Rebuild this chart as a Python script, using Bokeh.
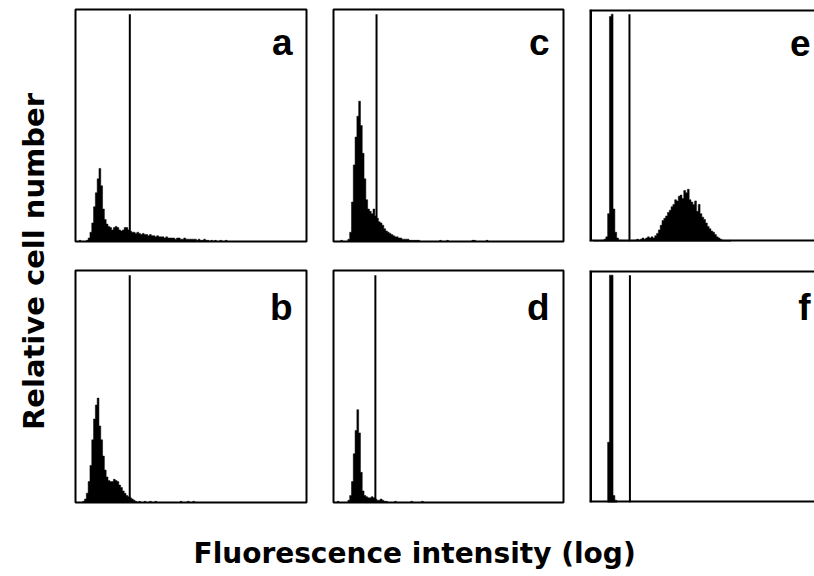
import math
from bokeh.plotting import figure
from bokeh.models import Range1d, Span, Label
from bokeh.layouts import row, column
from bokeh.embed import file_html
from bokeh.resources import INLINE

# ---------------- data ----------------
# Flow-cytometry histograms: x = log fluorescence channel (0-256), bins of 2 channels.
# counts = relative cell number (% of panel full scale), listed from bin index *_start.
BIN = 2
CHANNELS = 256

a_start = 2
a_counts = [0.5, 0, 0, 0, 0.5, 1.5, 4, 8, 15, 21, 27, 31.5, 24, 14, 9.5, 7.5, 6.5, 6, 5, 6,
            6.5, 6, 5, 4.5, 5, 6, 6, 5, 4.5, 4, 4, 3.5, 4, 3.5, 3, 3.5, 3, 3, 2.5, 3,
            2.5, 2.5, 2, 2.5, 2, 2, 2, 1.5, 2, 1.5, 1.5, 1.5, 1.5, 1, 1.5, 1.5, 1, 1, 1.5, 1,
            1, 1, 1, 1, 1, 0.5, 1, 0.5, 0.5, 1, 0.5, 0.5, 0, 0.5, 0, 0.5, 0, 0, 0.5, 0,
            0, 0.5]
a_marker = 60.2

b_start = 4
b_counts = [0.5, 1.5, 4, 9, 16, 27, 36, 42, 45, 33, 27, 20, 14, 11, 9.5, 9, 9, 10, 9.5, 9,
            7.5, 6.5, 5, 4, 3, 2.5, 2, 1.5, 1, 0.5, 0, 0.5, 0, 0, 0.5, 0, 0, 0.5, 0, 0,
            0.5, 0, 0, 0, 0, 0, 0, 0, 0, 0, 0, 0, 0, 0, 0.5, 0, 0, 0, 0.5, 0,
            0, 0.5]
b_marker = 60.1

c_start = 4
c_counts = [0.5, 0, 0, 0, 1, 4, 17, 33, 45, 54, 60.5, 50, 38, 27, 18, 14, 13, 12, 14, 11,
            10, 8.5, 8, 7, 5.5, 4.5, 4, 3.5, 3, 2.5, 2, 2, 1.5, 1.5, 1, 1, 1, 1, 0.5, 0.5,
            0.5, 0.5, 0.5, 0.5, 0, 0, 0, 0, 0, 0, 0, 0, 0, 0, 0, 0.5, 0, 0, 0, 0.5,
            0, 0, 0, 0, 0, 0, 0, 0, 0, 0, 0, 0, 0, 0.5, 0.5, 0, 0, 0, 0, 0,
            0, 0.5]
c_marker = 47.9

d_start = 2
d_counts = [0.5, 0, 0, 0, 0, 0, 1, 3, 9, 21, 31, 40, 30, 13, 5, 3, 2.5, 2, 2, 2.5,
            2, 1.5, 1, 1, 1.5, 1, 0.5, 0.5, 0, 0, 0, 0, 0.5, 0, 0, 0, 0, 0, 0, 0,
            0, 0.5, 0, 0, 0, 0, 0, 0.5]
d_marker = 46.6

e_start = 2
e_counts = [0.5, 0, 0, 0, 0.5, 0.5, 1, 2, 12, 97, 98, 14, 4, 1.5, 0.5, 0.5, 0, 0, 0, 0,
            0, 0, 0.5, 0.5, 1, 0.5, 1, 1.5, 1, 1.5, 2, 1.5, 2, 1.5, 2.5, 3.5, 5, 7, 9, 10,
            11, 12.5, 13.5, 15, 16, 18, 17.5, 19.5, 20, 18.5, 22, 21, 22.5, 18, 17, 16, 17.5, 13, 16, 12,
            10.5, 9.5, 8, 6.5, 5.5, 4.5, 4, 3, 2, 1.5, 1, 0.5, 0.5, 0, 0, 0.5]
e_marker = 44.1

f_start = 10
f_counts = [26, 98, 98, 3, 1]
f_marker = 44.6

panel_labels = ["a", "b", "c", "d", "e", "f"]
x_title = "Fluorescence intensity (log)"
y_title = "Relative cell number"

# ---------------- layout constants ----------------
H = 232                 # frame height of each panel
FULL_W = 232            # full width of a panel frame
VISIBLE_E = 225         # visible width of the right-hand panels (cut by page edge)


def step_outline(counts, start):
    """Closed step polygon of a histogram (bin edges + counts)."""
    xs, ys = [start * BIN], [0]
    for i, c in enumerate(counts):
        left = (start + i) * BIN
        xs += [left, left + BIN]
        ys += [c, c]
    xs.append((start + len(counts)) * BIN)
    ys.append(0)
    return xs, ys


def panel(counts, start, marker, label, frame_w, mleft, mright, mtop, mbottom,
          label_dx, label_dy, cut=False, marker_w=2):
    x_end = CHANNELS * frame_w / FULL_W if cut else CHANNELS
    p = figure(frame_width=frame_w, frame_height=H,
               x_range=Range1d(0, x_end), y_range=Range1d(0, 100),
               x_axis_location=None, y_axis_location=None, title=None,
               toolbar_location=None, output_backend="svg",
               min_border_left=mleft, min_border_right=mright,
               min_border_top=mtop, min_border_bottom=mbottom)
    p.grid.visible = False
    p.background_fill_color = "white"
    p.border_fill_color = "white"
    xs, ys = step_outline(counts, start)
    p.patch(x=xs, y=ys, fill_color="black", line_color="black", line_width=0.5)
    p.segment(x0=[marker], y0=[0], x1=[marker], y1=[98],
              line_color="black", line_width=marker_w)
    if cut:
        p.outline_line_color = None
        for loc, dim, lw in ((0, "height", 5), (100, "width", 4), (0, "width", 4)):
            p.add_layout(Span(location=loc, dimension=dim, line_color="black", line_width=lw))
    else:
        p.outline_line_color = "black"
        p.outline_line_width = 2
        p.outline_line_alpha = 1
    lx = label_dx * x_end / frame_w
    ly = 100 - label_dy * 100 / H
    p.add_layout(Label(x=lx, y=ly, text=label, text_align="right",
                       text_baseline="alphabetic", text_font="Liberation Sans",
                       text_font_style="bold", text_font_size="37px",
                       text_color="black"))
    return p


TOP_MT, TOP_MB = 9, 27
BOT_MT, BOT_MB = 2, 2
pa = panel(a_counts, a_start, a_marker, panel_labels[0], 231, 2, 25, TOP_MT, TOP_MB, 231 - 14, 33)
pc = panel(c_counts, c_start, c_marker, panel_labels[2], 230, 2, 24, TOP_MT, TOP_MB, 230 - 14, 33)
pe = panel(e_counts, e_start, e_marker, panel_labels[4], VISIBLE_E, 2, 0, TOP_MT, TOP_MB, 221, 33,
           cut=True)
pb = panel(b_counts, b_start, b_marker, panel_labels[1], 231, 2, 25, BOT_MT, BOT_MB, 231 - 14, 37)
pd = panel(d_counts, d_start, d_marker, panel_labels[3], 230, 2, 24, BOT_MT, BOT_MB, 230 - 14, 37)
pf = panel(f_counts, f_start, f_marker, panel_labels[5], VISIBLE_E, 2, 0, BOT_MT, BOT_MB, 221, 37,
           cut=True)

grid_h = (TOP_MT + H + TOP_MB) + (BOT_MT + H + BOT_MB)   # 504
YL_W = 73
ylab = figure(width=YL_W, height=grid_h, x_range=Range1d(0, YL_W), y_range=Range1d(0, grid_h),
              x_axis_location=None, y_axis_location=None, title=None,
              toolbar_location=None, output_backend="svg", min_border=0)
ylab.grid.visible = False
ylab.outline_line_color = None
ylab.add_layout(Label(x=33, y=grid_h - 261, text=y_title, angle=math.pi / 2,
                      text_align="center", text_baseline="alphabetic",
                      text_font="DejaVu Sans", text_font_style="bold",
                      text_font_size="29px", text_color="black"))

XL_W, XL_H = 814, 72
xlab = figure(width=XL_W, height=XL_H, x_range=Range1d(0, XL_W), y_range=Range1d(0, XL_H),
              x_axis_location=None, y_axis_location=None, title=None,
              toolbar_location=None, output_backend="svg", min_border=0)
xlab.grid.visible = False
xlab.outline_line_color = None
xlab.add_layout(Label(x=193, y=23, text=x_title, text_align="left",
                      text_baseline="alphabetic", text_font="DejaVu Sans",
                      text_font_style="bold", text_font_size="28px", text_color="black"))

layout = column(row(ylab, column(row(pa, pc, pe), row(pb, pd, pf))), xlab)

open("out.html", "w").write(file_html(layout, INLINE))
